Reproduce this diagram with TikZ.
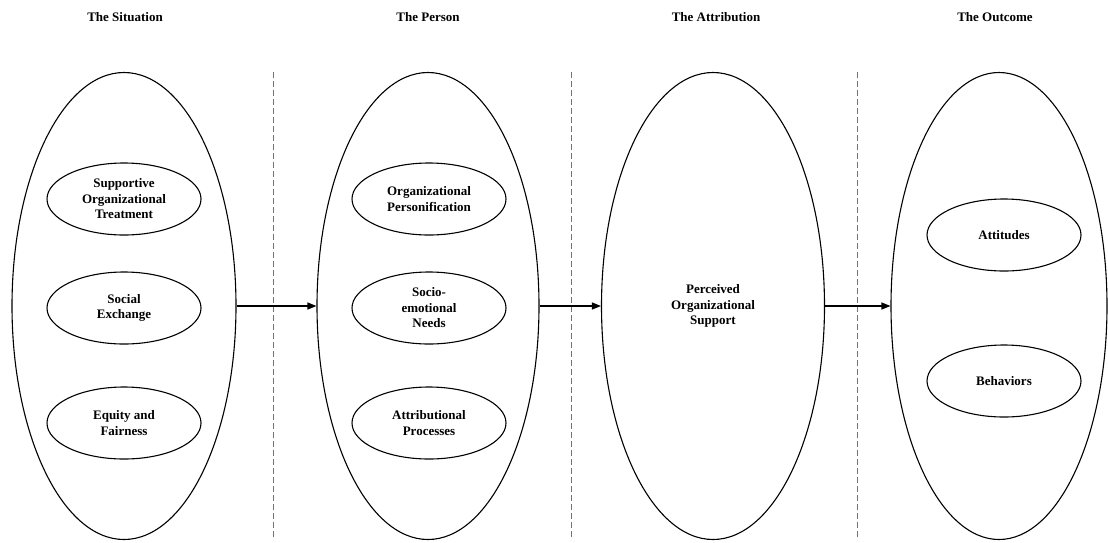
\documentclass[tikz,border=0pt]{standalone}
\usepackage{fontspec}
\setmainfont{Liberation Serif}
\usetikzlibrary{shapes.geometric,arrows.meta}
\begin{document}
\begin{tikzpicture}[x=1pt,y=-1pt,
  big/.style={draw,ellipse,line width=1.1pt,minimum height=467pt,inner sep=0pt,align=center,font=\fontsize{13}{15.3}\selectfont\bfseries},
  small/.style={draw,ellipse,line width=1.1pt,minimum width=154pt,minimum height=72pt,inner sep=0pt,align=center,font=\fontsize{13}{15.5}\selectfont\bfseries},
  title/.style={font=\fontsize{13}{15}\selectfont\bfseries},
  sep/.style={draw=black!55,dashed,dash pattern=on 6pt off 3pt,line width=1pt},
  flow/.style={line width=1.2pt,-{Triangle[length=9pt,width=7pt]}}]
\useasboundingbox (0,0) rectangle (1108,542);
\node[title] (t1) at (125,17) {The Situation};
\node[title] (t2) at (428,17) {The Person};
\node[title] (t3) at (716,17) {The Attribution};
\node[title] (t4) at (995,17) {The Outcome};
% separators
\coordinate (d1a) at (273,72); \coordinate (d1b) at (273,540);
\coordinate (d2a) at (571,72); \coordinate (d2b) at (571,540);
\coordinate (d3a) at (857,72); \coordinate (d3b) at (857,540);
\draw[sep] (d1a) -- (d1b);
\draw[sep] (d2a) -- (d2b);
\draw[sep] (d3a) -- (d3b);
% big ellipses
\node[big,minimum width=224pt,fill=white] (e1) at (124,306) {};
\node[big,minimum width=222pt,fill=white] (e2) at (428,306) {};
\node[big,minimum width=223pt,fill=white] (e3) at (713,306) {Perceived\\Organizational\\Support};
\node[big,minimum width=216pt,fill=white] (e4) at (999,306) {};
% inner ellipses
\node[small] (s1) at (124,199) {Supportive\\Organizational\\Treatment};
\node[small] (s2) at (124,308) {Social\\Exchange};
\node[small] (s3) at (124,423) {Equity and\\Fairness};
\node[small] (p1) at (429,199) {Organizational\\Personification};
\node[small] (p2) at (429,308) {Socio-\\emotional\\Needs};
\node[small] (p3) at (429,423) {Attributional\\Processes};
\node[small] (o1) at (1004,235) {Attitudes};
\node[small] (o2) at (1004,381) {Behaviors};
% arrows
\draw[flow] (e1.east) -- (e2.west);
\draw[flow] (e2.east) -- (e3.west);
\draw[flow] (e3.east) -- (e4.west);
\end{tikzpicture}
\end{document}
